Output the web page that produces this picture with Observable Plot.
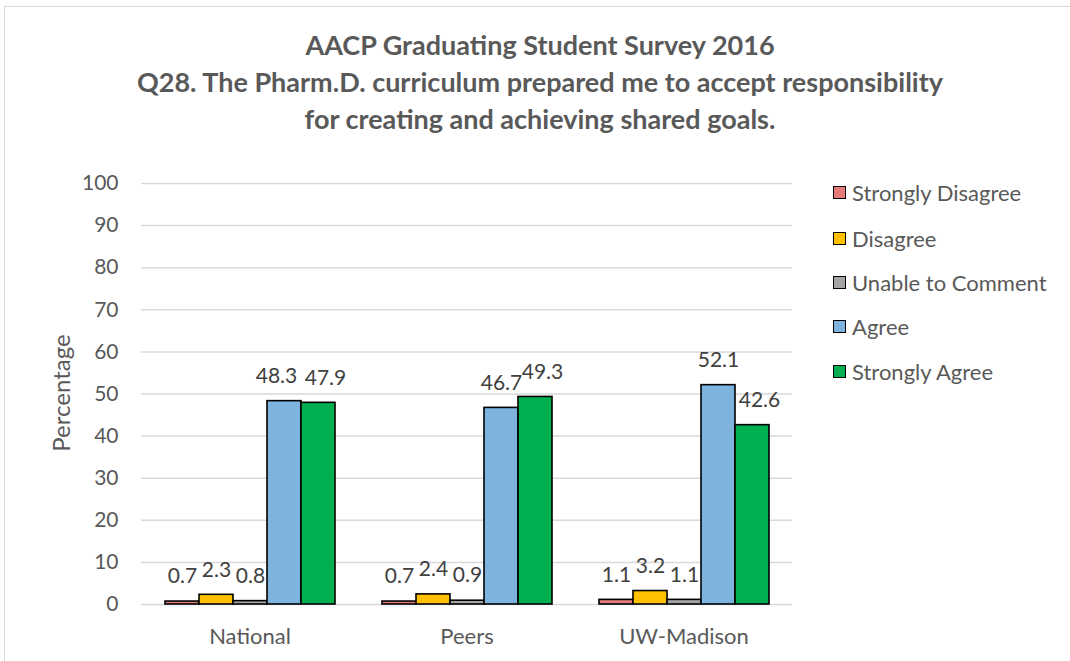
<!DOCTYPE html>
<html>
<head>
<meta charset="utf-8">
<script src="https://cdn.jsdelivr.net/npm/d3@7"></script>
<script src="https://cdn.jsdelivr.net/npm/@observablehq/plot@0.6"></script>
<style>
  body { margin: 0; background: #fff; font-family: Lato, "Open Sans", sans-serif; }
  #wrap { position: relative; width: 1070px; height: 661px; overflow: hidden; background: #fff; }
  #frame { position: absolute; left: 4px; top: 6px; width: 1100px; height: 700px; border: 1px solid #d9d9d9; }
  #title { position: absolute; left: 0; top: 26px; width: 1080px; text-align: center; font-weight: 700; color: #595959; font-size: 27px; line-height: 37px; }
  #chart { position: absolute; left: 0; top: 150px; }
  #ylabel { position: absolute; left: 60px; top: 393px; transform: translate(-50%, -50%) rotate(-90deg); color: #595959; font-size: 24px; white-space: nowrap; }
  .leg { position: absolute; left: 833px; color: #595959; font-size: 22px; white-space: nowrap; display: flex; align-items: center; }
  .sw { width: 11px; height: 11px; border: 1.5px solid #000; margin-right: 6px; }
</style>
</head>
<body>
<div id="wrap">
  <div id="frame"></div>
  <div id="title"></div>
  <div id="ylabel">Percentage</div>
  <div id="chart"></div>
  <div id="legend"></div>
</div>
<script>
const titleLines = [
  "AACP Graduating Student Survey 2016",
  "Q28. The Pharm.D. curriculum prepared me to accept responsibility",
  "for creating and achieving shared goals."
];
const groups = ["National", "Peers", "UW-Madison"];
const seriesNames = ["Strongly Disagree", "Disagree", "Unable to Comment", "Agree", "Strongly Agree"];
const stronglyDisagree = [0.7, 0.7, 1.1];
const disagree = [2.3, 2.4, 3.2];
const unableToComment = [0.8, 0.9, 1.1];
const agree = [48.3, 46.7, 52.1];
const stronglyAgree = [47.9, 49.3, 42.6];
const seriesColors = ["#E57C7B", "#FFC000", "#A5A5A5", "#7EB3DE", "#00B050"];
const yTicks = [0, 10, 20, 30, 40, 50, 60, 70, 80, 90, 100];

const seriesValues = [stronglyDisagree, disagree, unableToComment, agree, stronglyAgree];
const data = [];
seriesNames.forEach((s, si) => {
  groups.forEach((g, gi) => data.push({ group: g, series: s, gi, value: seriesValues[si][gi] }));
});

document.getElementById("title").innerHTML = titleLines.map(t => `<div>${t}</div>`).join("");

// nudge the two large labels apart like Excel's label placement does
function labelDx(d) {
  if (d.series === "Strongly Agree") return 7;
  if (d.series === "Agree" && Math.abs(agree[d.gi] - stronglyAgree[d.gi]) < 1.5) return -8;
  return 0;
}

const fmt = d3.format(".1f");
const labelData = data.map(d => ({ ...d, dxv: labelDx(d) }));
const chart = Plot.plot({
  width: 1070,
  height: 511,
  marginLeft: 140,
  marginRight: 278,
  marginTop: 33,
  marginBottom: 57,
  style: { fontFamily: "Lato, 'Open Sans', sans-serif", fontSize: "21px", color: "#595959", background: "transparent" },
  fx: { domain: groups, padding: 0, label: null, axis: "bottom", tickSize: 0, tickPadding: 24 },
  x: { domain: seriesNames, paddingInner: 0, paddingOuter: 0.69, axis: null },
  y: { domain: [0, 100], ticks: yTicks, tickSize: 0, tickPadding: 23, label: null },
  color: { domain: seriesNames, range: seriesColors },
  marks: [
    Plot.ruleY(yTicks, { stroke: "#d9d9d9", strokeWidth: 1.5 }),
    Plot.barY(data, { fx: "group", x: "series", y: "value", fill: "series", stroke: "#000", strokeWidth: 1.6 }),
    ...[-8, 0, 7].map(dx => Plot.text(labelData.filter(d => d.dxv === dx), {
      fx: "group", x: "series", y: "value", text: d => fmt(d.value), dy: -25, dx, fill: "#404040", fontSize: 21
    }))
  ]
});
chart.querySelectorAll('[aria-label="fx-axis tick label"] text').forEach(t => t.setAttribute("font-size", "22"));
document.getElementById("chart").appendChild(chart);

const legendRows = [192, 238, 282, 326, 371];
const legend = document.getElementById("legend");
seriesNames.forEach((s, i) => {
  const row = document.createElement("div");
  row.className = "leg";
  row.style.top = (legendRows[i] - 15) + "px";
  row.style.height = "30px";
  row.innerHTML = `<div class="sw" style="background:${seriesColors[i]}"></div><span>${s}</span>`;
  legend.appendChild(row);
});
</script>
</body>
</html>
